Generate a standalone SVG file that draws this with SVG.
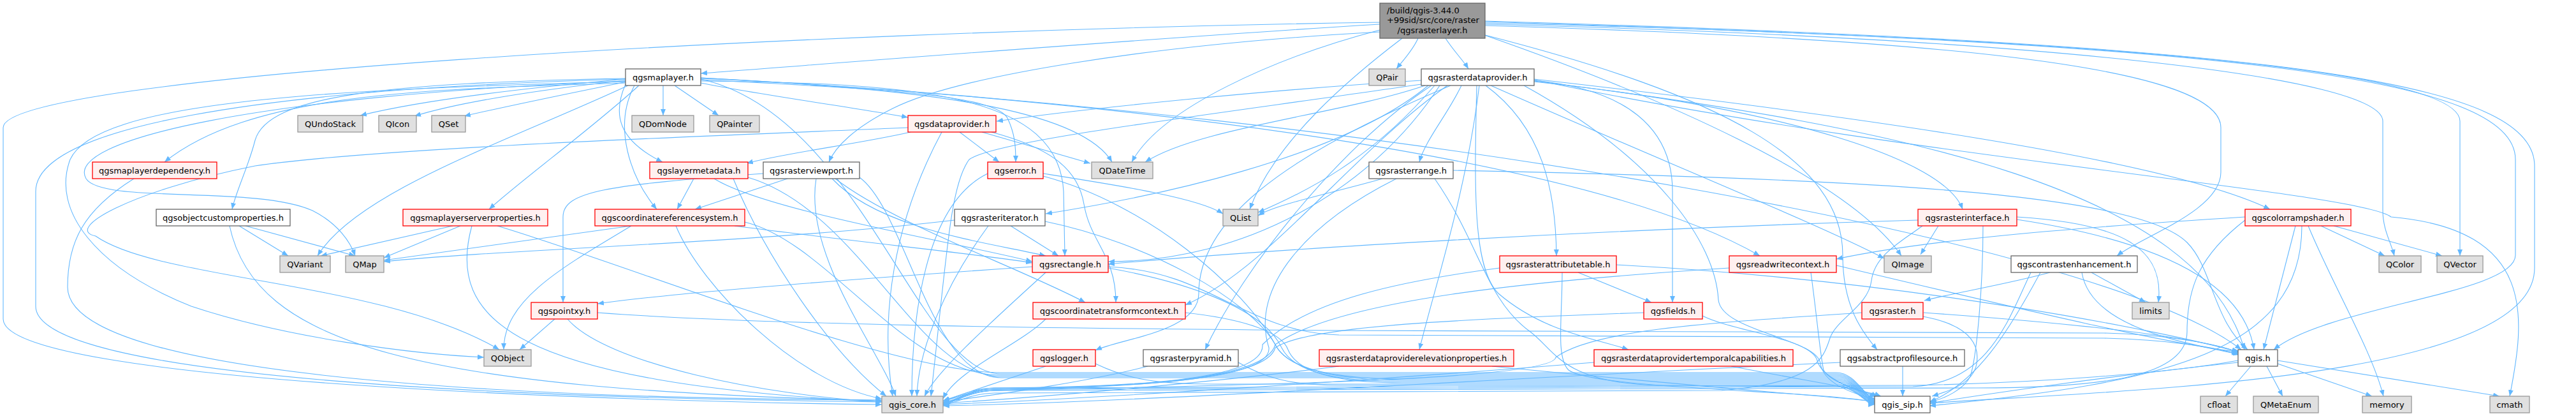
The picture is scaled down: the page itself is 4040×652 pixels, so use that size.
<svg xmlns="http://www.w3.org/2000/svg" width="4040" height="652" viewBox="0 0 4040 652">
<style>
.e path{fill:none;stroke:#63b8ff;stroke-width:1.1;marker-end:url(#a)}
.n rect{stroke-width:1.3}
.w rect{fill:#ffffff;stroke:#666666}
.g rect{fill:#e0e0e0;stroke:#999999}
.r rect{fill:#fff0f0;stroke:#ff0000}
.root rect{fill:#999999;stroke:#666666}
text{font-family:"DejaVu Sans","Liberation Sans",sans-serif;font-size:13px;fill:#000000;text-anchor:middle}
</style>
<defs>
<marker id="a" markerWidth="12" markerHeight="10" refX="10" refY="4" orient="auto" markerUnits="userSpaceOnUse"><path d="M0,0 L10,4 L0,8 z" fill="#63b8ff"/></marker>
</defs>
<rect x="0" y="0" width="4040" height="652" fill="#ffffff"/>
<g id="edges" class="e">
<path d="M2164,38 C1800,60 1300,100 1099,115"/>
<path d="M2224,60 C2215,80 2200,95 2190,108"/>
<path d="M2267,60 C2280,80 2295,95 2303,108"/>
<path d="M2164,50 C1800,70 1500,120 1400,170 C1340,200 1310,230 1300,254"/>
<path d="M2164,47 C2000,90 1820,170 1775,254"/>
<path d="M2199,60 C2120,120 2000,220 1960,328"/>
<path d="M2328,55 C2600,150 2900,280 2982,401"/>
<path d="M2329,40 C3000,60 3483,100 3483,200 L3483,270 C3483,330 3360,370 3320,401"/>
<path d="M2329,38 C3200,60 3737,120 3737,190 L3737,330 C3737,360 3750,380 3755,401"/>
<path d="M2329,36 C3300,60 3858,110 3858,190 L3858,401"/>
<path d="M2329,34 C3500,70 3945,120 3945,250 L3945,400 C3945,460 3650,480 3566,548"/>
<path d="M2329,33 C3600,70 3975,130 3975,260 L3975,420 C3975,600 3300,612 3026,632"/>
<path d="M2164,35 C1200,50 5,120 5,200 L5,500 C5,600 1000,630 1383,634"/>
<path d="M2329,55 C2700,150 2890,250 2890,400 C2890,480 2920,520 2944,548"/>
<path d="M981,124 C800,140 650,160 565,181"/>
<path d="M981,126 C850,140 720,160 650,182"/>
<path d="M983,128 C900,145 800,165 728,182"/>
<path d="M1040,134 L1040,181"/>
<path d="M1058,134 L1127,181"/>
<path d="M1099,130 C1200,150 1350,170 1424,184"/>
<path d="M981,130 C700,140 400,140 258,254"/>
<path d="M981,132 C960,180 970,220 1039,254"/>
<path d="M1099,125 C1400,140 1560,150 1580,185 C1592,210 1593,230 1593,254"/>
<path d="M1099,123 C1500,140 1700,180 1744,254"/>
<path d="M1002,134 C930,200 820,280 767,328"/>
<path d="M981,123 C600,130 420,150 400,220 C390,260 370,300 364,328"/>
<path d="M995,134 C960,200 990,280 1030,328"/>
<path d="M985,134 C800,220 560,300 498,401"/>
<path d="M981,127 C400,150 100,220 135,280 C160,320 400,290 490,330 C530,350 550,380 557,401"/>
<path d="M981,128 C500,140 150,160 110,250 C80,330 150,420 300,480 C450,530 650,555 759,560"/>
<path d="M981,124 C400,140 56,200 56,300 L56,480 C56,600 900,625 1383,630"/>
<path d="M1099,127 C1450,130 1660,150 1668,300 L1670,401"/>
<path d="M1099,122 C1800,160 2500,250 2760,401"/>
<path d="M1099,124 C1350,180 1440,586 1570,586 L2880,586 C2910,586 2925,625 2940,625"/>
<path d="M1099,122 C2200,180 3300,380 3515,548"/>
<path d="M2229,126 C2000,140 1700,170 1563,190"/>
<path d="M2235,134 C2100,180 1880,200 1796,254"/>
<path d="M2292,134 C2270,180 2235,220 2226,254"/>
<path d="M2240,134 C2100,250 1800,310 1640,335"/>
<path d="M2250,134 C2150,250 2050,300 1973,333"/>
<path d="M2258,134 C2150,300 1950,410 1738,410"/>
<path d="M2270,134 C2120,240 1990,420 1859,478"/>
<path d="M2275,134 C2000,250 1880,350 1880,460 C1880,520 1760,530 1718,549"/>
<path d="M2245,134 C2100,230 1950,420 1890,548"/>
<path d="M2320,134 C2300,300 2250,450 2226,548"/>
<path d="M2330,134 C2420,200 2440,300 2441,401"/>
<path d="M2406,126 C2550,140 2623,200 2623,300 L2623,474"/>
<path d="M2316,134 C2312,300 2310,420 2350,460 C2420,520 2500,530 2554,548"/>
<path d="M2406,128 C2800,170 3050,250 3078,328"/>
<path d="M2406,124 C2900,180 3400,250 3560,328"/>
<path d="M2338,134 C2600,250 2850,350 2955,405"/>
<path d="M2406,127 C3000,200 3450,300 3520,548"/>
<path d="M2406,125 C3000,250 3700,300 3750,340 C3980,360 3960,500 3936,621"/>
<path d="M2229,132 C1900,180 1560,220 1520,250 C1490,290 1485,400 1460,621"/>
<path d="M2390,134 C2600,250 2690,380 2695,470 C2700,520 2850,530 2855,570 C2860,600 2900,615 2940,626"/>
<path d="M1428,207 C1350,225 1230,240 1171,256"/>
<path d="M1505,207 L1567,254"/>
<path d="M1540,207 L1710,256"/>
<path d="M1424,200 C1200,210 600,230 400,260 C200,300 100,360 150,370 C250,440 600,440 783,548"/>
<path d="M1555,207 C1640,230 1690,260 1700,320 C1710,380 1750,400 1750,474"/>
<path d="M1477,207 C1400,350 1380,500 1400,621"/>
<path d="M210,280 C130,330 106,380 106,450 C106,600 900,625 1383,627"/>
<path d="M1088,280 L1062,328"/>
<path d="M1120,280 C1200,330 1500,380 1619,410"/>
<path d="M1150,280 C1200,400 1300,550 1390,621"/>
<path d="M1173,278 C1350,330 1440,590 1570,590 L2880,590 C2910,590 2925,627 2940,627"/>
<path d="M1235,280 L1090,328"/>
<path d="M1197,272 C950,290 883,300 883,340 L883,474"/>
<path d="M1305,280 C1380,360 1550,380 1640,401"/>
<path d="M1310,280 C1400,350 1600,420 1702,474"/>
<path d="M1280,280 C1260,400 1380,550 1405,621"/>
<path d="M1348,278 C1420,330 1460,592 1570,592 L2880,592 C2910,592 2925,628 2940,628"/>
<path d="M1636,272 C1750,290 1880,310 1918,335"/>
<path d="M1549,272 C1450,320 1430,500 1430,621"/>
<path d="M1636,276 C1800,320 1950,450 2000,540 C2020,580 2100,594 2200,594 L2880,594 C2910,594 2925,629 2940,629"/>
<path d="M2168,280 C2100,300 2000,320 1973,338"/>
<path d="M2190,280 C2050,350 1960,450 1990,545 C1995,600 1750,606 1560,610 C1520,611 1500,626 1479,628"/>
<path d="M2250,280 C2320,380 2330,470 2400,520 C2440,550 2450,600 2600,604 L2880,606 C2910,606 2925,632 2940,632"/>
<path d="M2279,267 C2900,280 3350,300 3430,380 C3470,420 3470,500 3525,548"/>
<path d="M375,354 L452,401"/>
<path d="M385,354 L557,401"/>
<path d="M360,354 C400,540 650,610 1383,628"/>
<path d="M710,354 L503,401"/>
<path d="M722,354 L602,404"/>
<path d="M740,354 C700,500 800,600 1383,630"/>
<path d="M780,354 C1000,420 1400,584 1570,584 L2880,584 C2910,584 2925,624 2940,624"/>
<path d="M990,354 C800,380 700,395 602,408"/>
<path d="M990,354 C880,420 790,470 790,548"/>
<path d="M1152,354 C1350,380 1550,400 1619,412"/>
<path d="M1060,354 C1100,450 1250,600 1383,625"/>
<path d="M1168,348 C1300,380 1420,588 1570,588 L2880,588 C2910,588 2925,626 2940,626"/>
<path d="M1497,345 C1200,380 800,390 602,410"/>
<path d="M1585,354 L1660,401"/>
<path d="M1550,354 C1480,450 1440,550 1438,621"/>
<path d="M1639,347 C1800,380 1960,470 2000,540 C2020,580 2100,596 2200,596 L2880,596 C2910,596 2925,630 2940,630"/>
<path d="M3008,345 C2500,360 2000,390 1738,414"/>
<path d="M3040,354 L3012,399"/>
<path d="M3163,340 C3330,350 3395,390 3385,474"/>
<path d="M3163,344 C3400,380 3520,450 3535,548"/>
<path d="M3015,354 C2980,380 2940,400 2935,440 C2930,480 2880,500 2870,530 C2860,560 2850,600 2700,612 L1560,616 C1520,617 1500,632 1479,635"/>
<path d="M3110,354 C3110,450 3100,560 3090,590 C3080,610 3050,625 3027,630"/>
<path d="M3640,354 L3740,401"/>
<path d="M3660,354 L3830,401"/>
<path d="M3620,354 C3660,450 3720,550 3738,621"/>
<path d="M3600,354 L3550,548"/>
<path d="M3610,354 C3610,550 3400,600 3026,636"/>
<path d="M3521,345 C3450,400 3430,450 3430,520 C3430,590 3300,608 3100,608 L1560,612 C1520,612 1500,630 1479,633"/>
<path d="M3521,340 C3200,360 3000,380 2880,406"/>
<path d="M1619,418 C1300,440 1050,460 937,476"/>
<path d="M1738,418 C1900,425 1950,520 2100,525 L3300,530 C3400,532 3480,545 3510,556"/>
<path d="M1640,427 C1560,500 1470,580 1450,621"/>
<path d="M1738,420 C1850,440 1980,480 2010,545 C2030,585 2100,598 2200,598 L2880,598 C2910,598 2925,631 2940,631"/>
<path d="M2475,427 L2590,474"/>
<path d="M2535,415 C3000,440 3400,520 3512,552"/>
<path d="M2352,420 C2200,440 2050,470 1980,540 C1985,600 1750,606 1560,608 C1520,609 1500,624 1479,628"/>
<path d="M2450,427 C2450,500 2440,560 2460,580 C2500,610 2850,612 2940,630"/>
<path d="M2712,420 C2400,440 2100,470 2000,540 C1985,600 1750,606 1560,610 C1520,611 1500,629 1479,631"/>
<path d="M2840,427 C2850,500 2855,560 2860,580 C2870,600 2920,612 2945,621"/>
<path d="M2880,416 C3150,480 3400,540 3515,552"/>
<path d="M3280,427 L3365,474"/>
<path d="M3265,427 C3280,520 3450,540 3512,556"/>
<path d="M3185,427 C3150,500 3120,600 3000,606 L1560,610 C1520,610 1500,628 1479,631"/>
<path d="M3200,427 C3150,520 3100,600 3026,630"/>
<path d="M3215,427 C3150,445 3060,460 3018,471"/>
<path d="M870,500 L815,548"/>
<path d="M937,490 C1200,510 1700,515 2100,518 L3300,522 C3400,524 3480,540 3510,552"/>
<path d="M890,500 C950,570 1200,620 1383,630"/>
<path d="M1640,500 C1600,540 1500,580 1479,625"/>
<path d="M1859,490 C1950,500 2010,520 2020,548 C2035,585 2100,600 2200,600 L2880,600 C2910,600 2925,632 2940,632"/>
<path d="M2578,490 C2300,500 2050,510 2000,545 C1985,600 1750,606 1560,612 C1520,613 1500,630 1479,633"/>
<path d="M2670,495 C2720,520 2840,530 2850,565 C2858,595 2915,612 2942,622"/>
<path d="M2921,490 C2700,505 2500,515 2440,560 C2435,600 1800,606 1560,612 C1520,613 1500,630 1479,634"/>
<path d="M3016,496 C3090,510 3105,540 3100,570 C3095,600 3060,612 3030,621"/>
<path d="M3017,490 C3300,510 3450,530 3510,552"/>
<path d="M1640,574 L1479,628"/>
<path d="M1718,570 C1760,590 1800,602 1900,602 L2880,602 C2910,602 2925,633 2940,633"/>
<path d="M1800,574 C1700,600 1550,620 1479,630"/>
<path d="M1942,568 C1980,590 2020,604 2100,604 L2880,604 C2910,604 2925,634 2940,634"/>
<path d="M2100,574 C1900,600 1600,625 1479,632"/>
<path d="M2340,574 C2600,600 2850,620 2940,629"/>
<path d="M2500,568 C2100,600 1700,625 1479,634"/>
<path d="M2715,574 C2850,600 2920,610 2950,621"/>
<path d="M2887,568 C2400,590 1800,630 1479,636"/>
<path d="M2984,574 L2984,621"/>
<path d="M3530,574 L3490,621"/>
<path d="M3555,574 L3580,621"/>
<path d="M3572,570 L3720,621"/>
<path d="M3572,565 L3920,621"/>
<path d="M3510,565 C3400,585 3200,600 3000,604 L1560,608 C1520,609 1500,629 1479,634"/>
<path d="M3510,568 C3300,590 3100,620 3026,632"/>
</g>
<g id="n_root" class="n root"><rect x="2164" y="5" width="165" height="55"/>
<text x="2175" y="20.5" style="text-anchor:start">/build/qgis-3.44.0</text>
<text x="2175" y="36" style="text-anchor:start">+99sid/src/core/raster</text>
<text x="2246.5" y="51.5">/qgsrasterlayer.h</text></g>
<g id="n_qgsmaplayer" class="n w"><rect x="981" y="108" width="118" height="26"/><text x="1040" y="125.5">qgsmaplayer.h</text></g>
<g id="n_QPair" class="n g"><rect x="2147" y="108" width="57" height="26"/><text x="2175.5" y="125.5">QPair</text></g>
<g id="n_qgsrasterdataprovider" class="n w"><rect x="2229" y="108" width="177" height="26"/><text x="2317.5" y="125.5">qgsrasterdataprovider.h</text></g>
<g id="n_QUndoStack" class="n g"><rect x="467" y="181" width="102" height="26"/><text x="518" y="198.5">QUndoStack</text></g>
<g id="n_QIcon" class="n g"><rect x="594" y="181" width="59" height="26"/><text x="623.5" y="198.5">QIcon</text></g>
<g id="n_QSet" class="n g"><rect x="677" y="181" width="53" height="26"/><text x="703.5" y="198.5">QSet</text></g>
<g id="n_QDomNode" class="n g"><rect x="991" y="181" width="97" height="26"/><text x="1039.5" y="198.5">QDomNode</text></g>
<g id="n_QPainter" class="n g"><rect x="1113" y="181" width="78" height="26"/><text x="1152" y="198.5">QPainter</text></g>
<g id="n_qgsdataprovider" class="n r"><rect x="1424" y="181" width="138" height="26"/><text x="1493" y="198.5">qgsdataprovider.h</text></g>
<g id="n_qgsmaplayerdependency" class="n r"><rect x="145" y="254" width="195" height="26"/><text x="242.5" y="271.5">qgsmaplayerdependency.h</text></g>
<g id="n_qgslayermetadata" class="n r"><rect x="1019" y="254" width="154" height="26"/><text x="1096" y="271.5">qgslayermetadata.h</text></g>
<g id="n_qgsrasterviewport" class="n w"><rect x="1197" y="254" width="151" height="26"/><text x="1272.5" y="271.5">qgsrasterviewport.h</text></g>
<g id="n_qgserror" class="n r"><rect x="1549" y="254" width="87" height="26"/><text x="1592.5" y="271.5">qgserror.h</text></g>
<g id="n_QDateTime" class="n g"><rect x="1712" y="254" width="96" height="26"/><text x="1760" y="271.5">QDateTime</text></g>
<g id="n_qgsrasterrange" class="n w"><rect x="2147" y="254" width="132" height="26"/><text x="2213" y="271.5">qgsrasterrange.h</text></g>
<g id="n_qgsobjectcustomproperties" class="n w"><rect x="245" y="328" width="210" height="26"/><text x="350" y="345.5">qgsobjectcustomproperties.h</text></g>
<g id="n_qgsmaplayerserverproperties" class="n r"><rect x="632" y="328" width="227" height="26"/><text x="745.5" y="345.5">qgsmaplayerserverproperties.h</text></g>
<g id="n_qgscoordinatereferencesystem" class="n r"><rect x="933" y="328" width="235" height="26"/><text x="1050.5" y="345.5">qgscoordinatereferencesystem.h</text></g>
<g id="n_qgsrasteriterator" class="n w"><rect x="1497" y="328" width="142" height="26"/><text x="1568" y="345.5">qgsrasteriterator.h</text></g>
<g id="n_QList" class="n g"><rect x="1918" y="328" width="55" height="26"/><text x="1945.5" y="345.5">QList</text></g>
<g id="n_qgsrasterinterface" class="n r"><rect x="3008" y="328" width="155" height="26"/><text x="3085.5" y="345.5">qgsrasterinterface.h</text></g>
<g id="n_qgscolorrampshader" class="n r"><rect x="3521" y="328" width="166" height="26"/><text x="3604" y="345.5">qgscolorrampshader.h</text></g>
<g id="n_QVariant" class="n g"><rect x="439" y="401" width="79" height="26"/><text x="478.5" y="418.5">QVariant</text></g>
<g id="n_QMap" class="n g"><rect x="542" y="401" width="60" height="26"/><text x="572" y="418.5">QMap</text></g>
<g id="n_qgsrectangle" class="n r"><rect x="1619" y="401" width="119" height="26"/><text x="1678.5" y="418.5">qgsrectangle.h</text></g>
<g id="n_qgsrasterattributetable" class="n r"><rect x="2352" y="401" width="183" height="26"/><text x="2443.5" y="418.5">qgsrasterattributetable.h</text></g>
<g id="n_qgsreadwritecontext" class="n r"><rect x="2712" y="401" width="168" height="26"/><text x="2796" y="418.5">qgsreadwritecontext.h</text></g>
<g id="n_QImage" class="n g"><rect x="2955" y="401" width="74" height="26"/><text x="2992" y="418.5">QImage</text></g>
<g id="n_qgscontrastenhancement" class="n w"><rect x="3154" y="401" width="198" height="26"/><text x="3253" y="418.5">qgscontrastenhancement.h</text></g>
<g id="n_QColor" class="n g"><rect x="3731" y="401" width="66" height="26"/><text x="3764" y="418.5">QColor</text></g>
<g id="n_QVector" class="n g"><rect x="3822" y="401" width="72" height="26"/><text x="3858" y="418.5">QVector</text></g>
<g id="n_qgspointxy" class="n r"><rect x="833" y="474" width="104" height="26"/><text x="885" y="491.5">qgspointxy.h</text></g>
<g id="n_qgscoordinatetransformcontext" class="n r"><rect x="1620" y="474" width="239" height="26"/><text x="1739.5" y="491.5">qgscoordinatetransformcontext.h</text></g>
<g id="n_qgsfields" class="n r"><rect x="2578" y="474" width="92" height="26"/><text x="2624" y="491.5">qgsfields.h</text></g>
<g id="n_qgsraster" class="n r"><rect x="2920" y="474" width="96" height="26"/><text x="2968" y="491.5">qgsraster.h</text></g>
<g id="n_limits" class="n g"><rect x="3344" y="474" width="58" height="26"/><text x="3373" y="491.5">limits</text></g>
<g id="n_QObject" class="n g"><rect x="759" y="548" width="74" height="26"/><text x="796" y="565.5">QObject</text></g>
<g id="n_qgslogger" class="n r"><rect x="1620" y="548" width="98" height="26"/><text x="1669" y="565.5">qgslogger.h</text></g>
<g id="n_qgsrasterpyramid" class="n w"><rect x="1793" y="548" width="149" height="26"/><text x="1867.5" y="565.5">qgsrasterpyramid.h</text></g>
<g id="n_qgsrasterdataproviderelevationproperties" class="n r"><rect x="2069" y="548" width="305" height="26"/><text x="2221.5" y="565.5">qgsrasterdataproviderelevationproperties.h</text></g>
<g id="n_qgsrasterdataprovidertemporalcapabilities" class="n r"><rect x="2500" y="548" width="312" height="26"/><text x="2656" y="565.5">qgsrasterdataprovidertemporalcapabilities.h</text></g>
<g id="n_qgsabstractprofilesource" class="n w"><rect x="2886" y="548" width="195" height="26"/><text x="2983.5" y="565.5">qgsabstractprofilesource.h</text></g>
<g id="n_qgis" class="n w"><rect x="3510" y="548" width="62" height="26"/><text x="3541" y="565.5">qgis.h</text></g>
<g id="n_qgis_core" class="n g"><rect x="1383" y="621" width="96" height="26"/><text x="1431" y="638.5">qgis_core.h</text></g>
<g id="n_qgis_sip" class="n w"><rect x="2940" y="621" width="87" height="26"/><text x="2983.5" y="638.5">qgis_sip.h</text></g>
<g id="n_cfloat" class="n g"><rect x="3451" y="621" width="58" height="26"/><text x="3480" y="638.5">cfloat</text></g>
<g id="n_QMetaEnum" class="n g"><rect x="3534" y="621" width="102" height="26"/><text x="3585" y="638.5">QMetaEnum</text></g>
<g id="n_memory" class="n g"><rect x="3705" y="621" width="77" height="26"/><text x="3743.5" y="638.5">memory</text></g>
<g id="n_cmath" class="n g"><rect x="3905" y="621" width="62" height="26"/><text x="3936" y="638.5">cmath</text></g>
</svg>
